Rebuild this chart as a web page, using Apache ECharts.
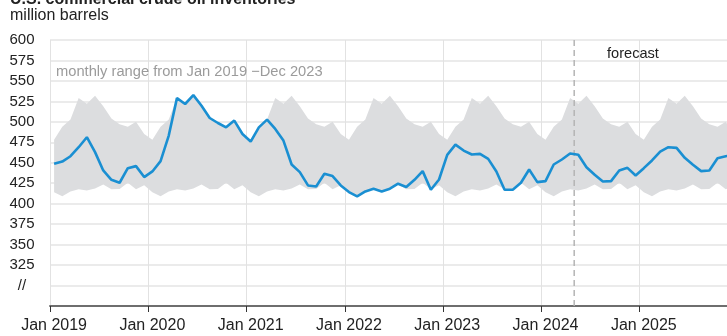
<!DOCTYPE html>
<html>
<head>
<meta charset="utf-8">
<script src="https://cdn.jsdelivr.net/npm/echarts@6/dist/echarts.min.js"></script>
<style>
html,body{margin:0;padding:0;background:#fff;}
#c{width:727px;height:336px;}
</style>
</head>
<body>
<div id="c"></div>
<script>
// ---- data ----
var years = [2019, 2020, 2021, 2022, 2023, 2024, 2025];
var monthNames = ['Jan','Feb','Mar','Apr','May','Jun','Jul','Aug','Sep','Oct','Nov','Dec'];
// monthly range (Jan 2019 - Dec 2023), million barrels
var rangeMax = [478, 494, 503, 529, 522, 532, 519, 504, 497, 494, 500, 485];
var rangeMin = [414, 409, 415, 417.5, 416, 418.5, 423.5, 417.5, 418, 425.5, 417.5, 422.5];
// U.S. commercial crude oil inventories, million barrels (history + forecast)
var inventories = [
  448.7, 451.5, 458, 469, 481.2, 463, 440.6, 429.2, 425.6, 443.4, 445.9, 432.5,
  439.4, 452, 483.2, 529, 521.8, 532.7, 519.7, 504.7, 498.6, 493.3, 501.5, 485.2,
  475.9, 493.3, 502.7, 491.3, 477.1, 447.9, 438.6, 422.3, 421.1, 436.5, 433.7, 422.3,
  414.2, 409, 415, 418.3, 415, 418.3, 424.4, 420.3, 429.2, 439.8, 417, 429.6,
  459.7, 472.2, 464.9, 460.1, 460.9, 454.8, 439.4, 417, 417, 425.6, 441.8, 426.4,
  427.6, 447.9, 454, 461.3, 459.7, 444.6, 435.3, 427.2, 427.6, 440.6, 443.8, 434.5,
  443.4, 452.8, 463.7, 469, 468.2, 456, 447.5, 439.8, 440.6, 455.6, 458, 459.5
];
var forecastStart = 64; // months after Jan 2019 (start of May 2024)
var yTicks = {min: 275, max: 600, step: 25, breakValue: 300};

// ---- build ----
var categories = [];
var bandLow = [], bandSpan = [];
years.forEach(function (y) {
  monthNames.forEach(function (m, k) {
    categories.push(m + ' ' + y);
    bandLow.push(rangeMin[k]);
    bandSpan.push(+(rangeMax[k] - rangeMin[k]).toFixed(2));
  });
});
var nMonths = categories.length;
function isJan(i) { return i % 12 === 0; }

var FONT = '"Liberation Sans", Arial, sans-serif';
var chart = echarts.init(document.getElementById('c'), null, {renderer: 'canvas'});
chart.setOption({
  animation: false,
  backgroundColor: '#ffffff',
  textStyle: {fontFamily: FONT},
  grid: {left: 50, top: 40, width: 688, height: 266, containLabel: false, outerBoundsMode: 'none'},
  graphic: [
    {type: 'text', left: 10, top: -8, style: {text: 'U.S. commercial crude oil inventories', font: 'bold 16px ' + FONT, fill: '#222'}},
    {type: 'text', left: 10, top: 8, style: {text: 'million barrels', font: '16px ' + FONT, fill: '#222'}},
    {type: 'text', left: 56, top: 64, z: 10, style: {text: 'monthly range from Jan 2019 \u2212Dec 2023', font: '14.7px ' + FONT, fill: '#9b9b9b'}},
    {type: 'text', left: 607, top: 46, z: 10, style: {text: 'forecast', font: '14.6px ' + FONT, fill: '#222'}}
  ],
  xAxis: [{
    type: 'category',
    data: categories,
    boundaryGap: true,
    axisLine: {show: true, lineStyle: {color: '#6e6e6e', width: 2}},
    axisTick: {show: true, interval: function (i) { return isJan(i); }, length: 6, lineStyle: {color: '#333', width: 1}},
    axisLabel: {
      interval: function (i) { return isJan(i); },
      color: '#222', fontSize: 16, fontFamily: FONT, margin: 12
    },
    splitLine: {show: true, interval: function (i) { return isJan(i); }, lineStyle: {color: '#e2e2e2', width: 1}}
  }, {
    type: 'value', min: 0, max: nMonths, show: false
  }],
  yAxis: {
    type: 'value',
    min: yTicks.min, max: yTicks.max, interval: yTicks.step,
    axisLine: {show: false},
    axisTick: {show: false},
    axisLabel: {
      color: '#222', fontSize: 15, fontFamily: FONT, align: 'center', margin: 28,
      formatter: function (v) {
        if (v === yTicks.min) return '';
        if (v === yTicks.breakValue) return '//';
        return String(v);
      }
    },
    splitLine: {show: true, lineStyle: {color: '#e4e4e4', width: 1.5}}
  },
  series: [
    {
      type: 'line', stack: 'band', data: bandLow, symbol: 'none',
      lineStyle: {opacity: 0}, silent: true, z: 2
    },
    {
      type: 'line', stack: 'band', data: bandSpan, symbol: 'none',
      lineStyle: {opacity: 0}, areaStyle: {color: '#dcdddf', opacity: 1}, silent: true, z: 2
    },
    {
      type: 'line', xAxisIndex: 1, data: [[forecastStart, yTicks.min], [forecastStart, yTicks.max]],
      symbol: 'none', silent: true, z: 3,
      lineStyle: {color: '#b4b4b4', width: 1.5, type: [6, 4]}
    },
    {
      type: 'line', data: inventories, symbol: 'none', z: 5,
      lineStyle: {color: '#1a8fd2', width: 2.6}
    }
  ]
});
</script>
</body>
</html>
